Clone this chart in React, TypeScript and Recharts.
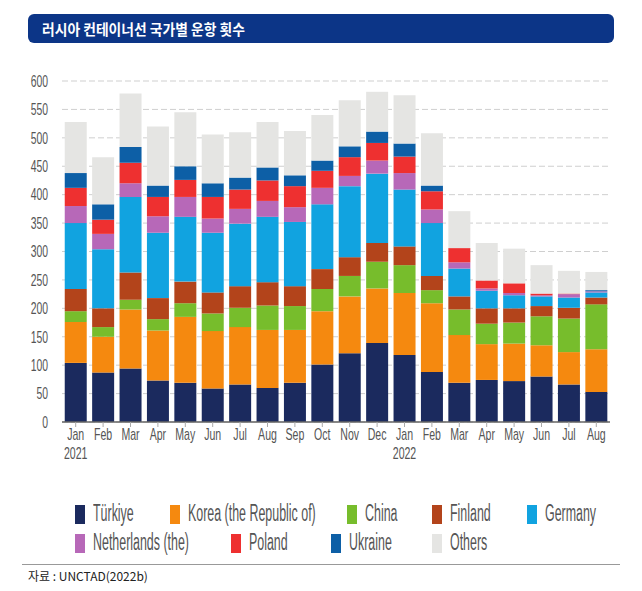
import React from 'react';
import { BarChart, Bar, XAxis, YAxis, CartesianGrid } from 'recharts';

// 월별 카테고리
const months = ['Jan', 'Feb', 'Mar', 'Apr', 'May', 'Jun', 'Jul', 'Aug', 'Sep', 'Oct', 'Nov', 'Dec',
  'Jan', 'Feb', 'Mar', 'Apr', 'May', 'Jun', 'Jul', 'Aug'];
const years = ['2021', '', '', '', '', '', '', '', '', '', '', '', '2022', '', '', '', '', '', '', ''];

// 국가별 운항 횟수
const turkiye = [104, 87, 94, 73, 69, 59, 66, 60, 69, 101, 121, 139, 118, 88, 69, 74, 72, 80, 66, 53];
const korea = [72, 63, 104, 88, 116, 101, 101, 102, 93, 94, 100, 96, 109, 121, 84, 63, 66, 55, 57, 75];
const china = [19, 17, 17, 20, 24, 31, 34, 43, 42, 39, 36, 47, 49, 23, 45, 36, 37, 51, 59, 79];
const finland = [39, 33, 48, 37, 38, 37, 38, 41, 35, 35, 33, 33, 33, 25, 23, 27, 25, 18, 19, 12];
const germany = [116, 104, 133, 115, 114, 105, 110, 115, 113, 114, 125, 122, 100, 93, 49, 31, 23, 17, 18, 9];
const netherlands = [30, 27, 24, 29, 35, 25, 26, 28, 26, 29, 18, 23, 29, 24, 11, 4, 4, 2, 6, 2];
const poland = [32, 25, 36, 34, 30, 38, 34, 36, 37, 30, 33, 31, 29, 32, 25, 14, 17, 3, 1, 0];
const ukraine = [26, 27, 28, 20, 24, 24, 21, 23, 19, 18, 19, 20, 23, 10, 0, 0, 0, 0, 0, 2];
const others = [90, 83, 94, 104, 95, 86, 80, 80, 78, 80, 81, 70, 85, 92, 65, 66, 61, 50, 40, 32];

const yTicks = [0, 50, 100, 150, 200, 250, 300, 350, 400, 450, 500, 550, 600];

const series = [
  { key: 'turkiye', name: 'Türkiye', color: '#1b2a5e', values: turkiye },
  { key: 'korea', name: 'Korea (the Republic of)', color: '#f5890f', values: korea },
  { key: 'china', name: 'China', color: '#77bd2c', values: china },
  { key: 'finland', name: 'Finland', color: '#b3441b', values: finland },
  { key: 'germany', name: 'Germany', color: '#11a3e0', values: germany },
  { key: 'netherlands', name: 'Netherlands (the)', color: '#b768b8', values: netherlands },
  { key: 'poland', name: 'Poland', color: '#ee3030', values: poland },
  { key: 'ukraine', name: 'Ukraine', color: '#0d5fa6', values: ukraine },
  { key: 'others', name: 'Others', color: '#e5e5e3', values: others },
];

// 범례 위치
const legendPos = [
  [75, 505], [170, 505], [347, 505], [432, 505], [527, 505],
  [75, 534], [231, 534], [331, 534], [432, 534],
];

const data = months.map((m, i) => {
  const row: any = { idx: i, month: m, year: years[i] };
  series.forEach((s) => { row[s.key] = s.values[i]; });
  return row;
});

const SANS = '"Liberation Sans", Arial, sans-serif';

function MonthTick({ x, y, payload }: any) {
  const i = payload.value;
  return (
    <g transform={`translate(${x},${y})`}>
      <g transform="scale(0.66,1)">
        <text textAnchor="middle" y={11} fontSize={16} fill="#555" fontFamily={SANS}>{months[i]}</text>
        {years[i] && (
          <text textAnchor="middle" y={30} fontSize={16} fill="#555" fontFamily={SANS}>{years[i]}</text>
        )}
      </g>
    </g>
  );
}

function ValueTick({ x, y, payload }: any) {
  return (
    <g transform={`translate(${x},${y})`}>
      <g transform="scale(0.65,1)">
        <text textAnchor="end" dy="0.36em" fontSize={16} fill="#555" fontFamily={SANS}>{payload.value}</text>
      </g>
    </g>
  );
}

export default function App() {
  return (
    <div style={{ position: 'absolute', left: 0, top: 0, width: 642, height: 591, background: '#fff', overflow: 'hidden' }}>
      <div style={{
        position: 'absolute', left: 28, top: 14, width: 586, height: 29, background: '#0c3587',
        borderRadius: 6, boxSizing: 'border-box', paddingLeft: 14,
      }}>
        <div style={{
          color: '#fff', fontFamily: '"Noto Sans CJK KR", sans-serif', fontWeight: 700, fontSize: 15,
          lineHeight: '29px', whiteSpace: 'nowrap', transform: 'scaleX(0.92)', transformOrigin: 'left center',
        }}>
          러시아 컨테이너선 국가별 운항 횟수
        </div>
      </div>

      <div style={{ position: 'absolute', left: 0, top: 0 }}>
        <BarChart width={642} height={470} data={data} barCategoryGap="10%"
          margin={{ top: 81, right: 32, left: 20, bottom: 8 }}>
          <CartesianGrid vertical={false} stroke="#cfcfcf" strokeDasharray="6 3" />
          <XAxis dataKey="idx" height={40} tick={<MonthTick />} tickSize={5} tickMargin={2}
            interval={0} axisLine={{ stroke: '#666', strokeWidth: 1.5 }} tickLine={{ stroke: '#aaa' }} />
          <YAxis width={42} domain={[0, 600]} ticks={yTicks} tick={<ValueTick />}
            axisLine={false} tickLine={false} tickMargin={8} />
          {series.map((s) => (
            <Bar key={s.key} dataKey={s.key} name={s.name} stackId="a" fill={s.color} isAnimationActive={false} />
          ))}
        </BarChart>
      </div>

      {series.map((s, i) => (
        <div key={s.key} style={{ position: 'absolute', left: legendPos[i][0], top: legendPos[i][1], height: 20 }}>
          <div style={{ position: 'absolute', left: 0, top: 0, width: 10, height: 19, background: s.color }} />
          <div style={{
            position: 'absolute', left: 18, top: -5, whiteSpace: 'nowrap', fontFamily: SANS,
            fontSize: 23, color: '#555', transform: 'scaleX(0.54)', transformOrigin: 'left top',
          }}>{s.name}</div>
        </div>
      ))}

      <div style={{ position: 'absolute', left: 22, top: 564, width: 598, height: 1, background: '#999' }} />
      <div style={{
        position: 'absolute', left: 28, top: 567, fontFamily: '"Noto Sans CJK KR", sans-serif',
        fontSize: 12, color: '#222', whiteSpace: 'nowrap',
      }}>자료 : UNCTAD(2022b)</div>
    </div>
  );
}
